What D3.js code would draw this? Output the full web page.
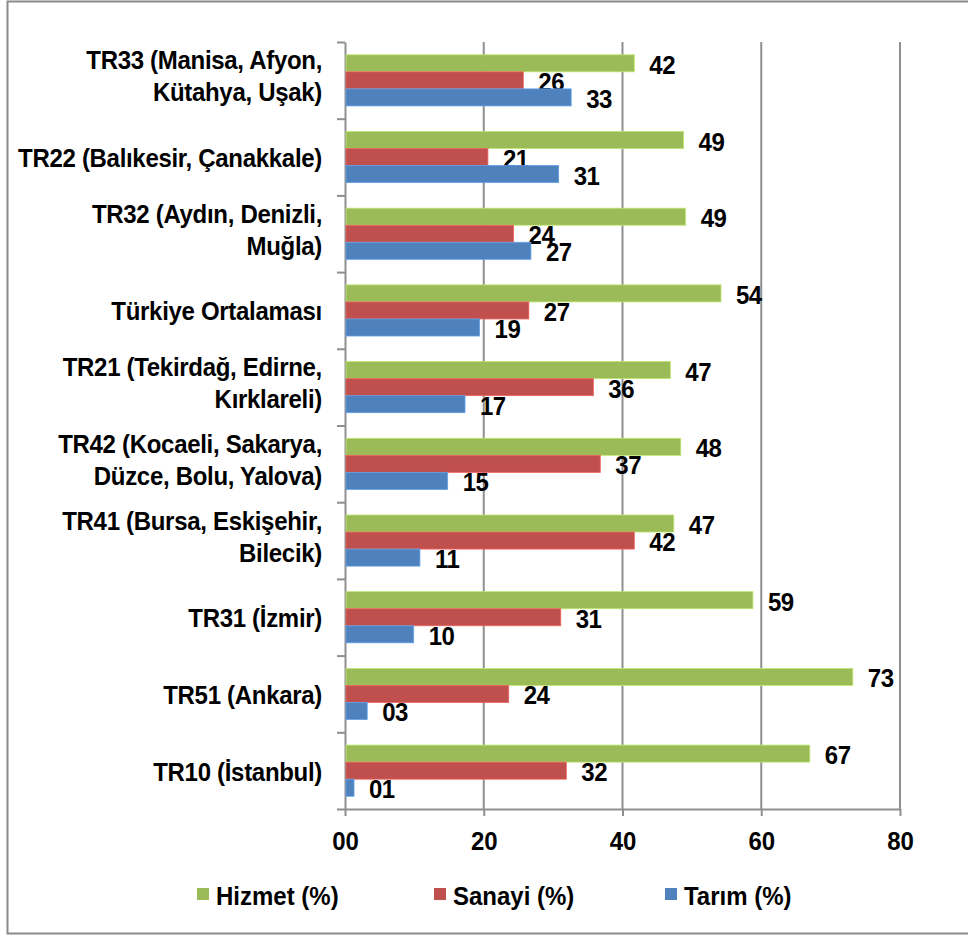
<!DOCTYPE html>
<html>
<head>
<meta charset="utf-8">
<script src="https://cdn.jsdelivr.net/npm/d3@7"></script>
<style>
  html, body { margin: 0; padding: 0; background: #fff; }
  svg { display: block; }
  text { font-family: "Liberation Sans", Arial, sans-serif; font-weight: bold; fill: #000; }
</style>
</head>
<body>
<svg id="chart" width="968" height="935"></svg>
<script>
// ---- data ----
const categories = [
  "TR33 (Manisa, Afyon,|Kütahya, Uşak)",
  "TR22 (Balıkesir, Çanakkale)",
  "TR32 (Aydın, Denizli,|Muğla)",
  "Türkiye Ortalaması",
  "TR21 (Tekirdağ, Edirne,|Kırklareli)",
  "TR42 (Kocaeli, Sakarya,|Düzce, Bolu, Yalova)",
  "TR41 (Bursa, Eskişehir,|Bilecik)",
  "TR31 (İzmir)",
  "TR51 (Ankara)",
  "TR10 (İstanbul)"
];
const seriesNames = ["Hizmet (%)", "Sanayi (%)", "Tarım (%)"];
const seriesColors = ["#9BBB59", "#C0504D", "#4F81BD"];
const hizmet = [41.7, 48.8, 49.1, 54.2, 46.9, 48.4, 47.4, 58.8, 73.2, 67.0];
const sanayi = [25.7, 20.6, 24.3, 26.5, 35.8, 36.8, 41.7, 31.1, 23.6, 31.9];
const tarim  = [32.6, 30.8, 26.8, 19.4, 17.3, 14.8, 10.8,  9.9,  3.2,  1.3];
const xTicks = [0, 20, 40, 60, 80];

const seriesValues = [hizmet, sanayi, tarim];

// ---- layout ----
const svg = d3.select("#chart");
const plot = { left: 345, right: 900, top: 42, bottom: 809 };
const gridColor = "#8f8f8f";
const stretch = "scale(1,1.07)";

// outer frame (right side extends beyond view)
svg.append("rect")
  .attr("x", 7.5).attr("y", 1.5)
  .attr("width", 980).attr("height", 932)
  .attr("fill", "none").attr("stroke", "#8a8a8a").attr("stroke-width", 2);

const x = d3.scaleLinear().domain([0, 80]).range([plot.left, plot.right]);
const y = d3.scaleBand().domain(categories).range([plot.top, plot.bottom]).padding(0);
const bw = y.bandwidth();
const groupH = bw / 1.5;
const ys = d3.scaleBand().domain(seriesNames)
  .range([(bw - groupH) / 2, (bw + groupH) / 2]).padding(0);

// gridlines
svg.append("g").selectAll("line")
  .data(xTicks.filter(d => d > 0))
  .join("line")
  .attr("x1", d => x(d)).attr("x2", d => x(d))
  .attr("y1", plot.top).attr("y2", plot.bottom)
  .attr("stroke", gridColor).attr("stroke-width", 2);

// bottom axis
const xAxis = svg.append("g")
  .attr("transform", `translate(0,${plot.bottom})`)
  .call(d3.axisBottom(x).tickValues(xTicks).tickFormat(d3.format("02d")).tickSize(7).tickSizeOuter(0));
xAxis.select(".domain").attr("stroke", gridColor).attr("stroke-width", 2);
xAxis.selectAll(".tick line").attr("stroke", gridColor).attr("stroke-width", 2);
xAxis.selectAll(".tick text")
  .attr("y", 0).attr("dy", null)
  .attr("transform", "translate(0,41) " + stretch)
  .style("font-size", "24px")
  .style("font-family", "'Liberation Sans', Arial, sans-serif")
  .style("font-weight", "bold")
  .attr("fill", "#000");

// left axis (ticks at band boundaries)
const idx = d3.scaleLinear().domain([0, categories.length]).range([plot.top, plot.bottom]);
const yAxis = svg.append("g")
  .attr("transform", `translate(${plot.left},0)`)
  .call(d3.axisLeft(idx).tickValues(d3.range(categories.length + 1)).tickFormat("").tickSize(8).tickSizeOuter(0));
yAxis.select(".domain").attr("stroke", gridColor).attr("stroke-width", 2);
yAxis.selectAll(".tick line").attr("stroke", gridColor).attr("stroke-width", 2);

// bars
const groups = svg.append("g").selectAll("g")
  .data(categories)
  .join("g")
  .attr("transform", d => `translate(0,${y(d)})`);

const fmt = d3.format("02.0f");

seriesNames.forEach((s, si) => {
  groups.append("rect")
    .attr("x", x(0) + 1)
    .attr("y", ys(s))
    .attr("width", (d, i) => x(seriesValues[si][i]) - x(0) - 1)
    .attr("height", ys.bandwidth())
    .attr("fill", seriesColors[si])
    .attr("stroke", d3.color(seriesColors[si]).brighter(0.6))
    .attr("stroke-width", 0.8);
  groups.append("text")
    .attr("transform", (d, i) =>
      `translate(${x(seriesValues[si][i]) + 15},${ys(s) + ys.bandwidth() / 2 + 10.5}) ${stretch}`)
    .style("font-size", "24px")
    .style("letter-spacing", "-0.5px")
    .text((d, i) => fmt(seriesValues[si][i]));
});

// category labels
groups.each(function(d) {
  const lines = d.split("|");
  const g = d3.select(this);
  const cy = bw / 2;
  const offsets = lines.length === 1 ? [10] : [-11, 21];
  lines.forEach((ln, li) => {
    g.append("text")
      .attr("transform", `translate(322,${cy + offsets[li]}) ${stretch}`)
      .attr("text-anchor", "end")
      .style("font-size", "24px")
      .style("letter-spacing", "-0.3px")
      .text(ln);
  });
});

// legend
const legendX = [197, 434, 665];
const legend = svg.append("g").selectAll("g")
  .data(seriesNames)
  .join("g")
  .attr("transform", (d, i) => `translate(${legendX[i]},888)`);
legend.append("rect")
  .attr("width", 12).attr("height", 12)
  .attr("fill", (d, i) => seriesColors[i]);
legend.append("text")
  .attr("transform", "translate(19,17) " + stretch)
  .style("font-size", "24px")
  .text(d => d);
</script>
</body>
</html>
